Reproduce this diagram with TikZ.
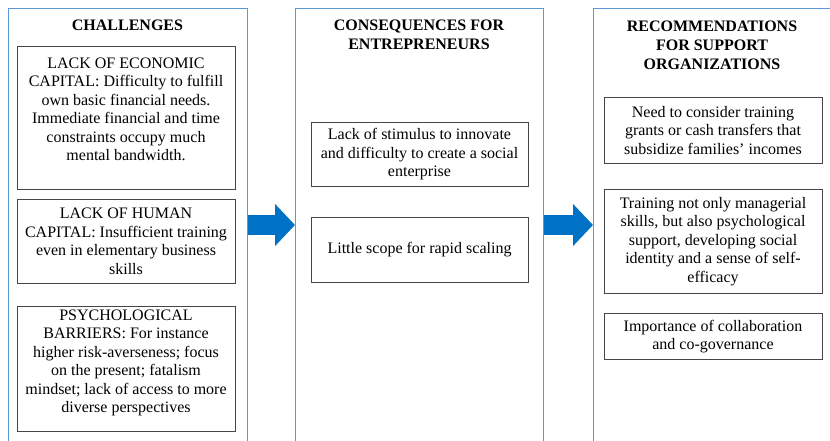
\documentclass[tikz,border=0pt]{standalone}
\usepackage{fontspec}
\setmainfont{Liberation Serif}
\usetikzlibrary{arrows.meta}
\definecolor{panelblue}{RGB}{91,155,213}
\definecolor{arrowblue}{RGB}{0,114,198}
\definecolor{boxgray}{RGB}{70,70,70}

\begin{document}
\begin{tikzpicture}[x=1pt, y=-1pt,
    every node/.style={font=\fontsize{16}{18.5}\selectfont, align=center},
    panel/.style={draw=panelblue, line width=0.9pt, anchor=north west,
                  minimum height=445pt, inner sep=0pt},
    cell/.style={draw=boxgray, line width=0.9pt, anchor=north, inner sep=3pt},
    heading/.style={font=\fontsize{16}{19}\selectfont\bfseries},
    flow/.style={draw=arrowblue, line width=20pt,
                 -{Triangle[length=20pt, width=41pt]}}]

    \useasboundingbox (0,0) rectangle (830,440);

    \foreach \name/\x/\w in {chal/8/239, cons/295/248, reco/593/245} {
        \node[panel, minimum width=\w pt] (\name) at (\x,8) {};
    }

    \node[heading] (chalhead) at (127.5,25) {CHALLENGES};
    \node[heading] (conshead) at (419,34.5) {CONSEQUENCES FOR\\ENTREPRENEURS};
    \node[heading] (recohead) at (712,45) {RECOMMENDATIONS\\FOR SUPPORT\\ORGANIZATIONS};

    \node[cell, minimum width=218pt, minimum height=143pt] (econ) at (126,46)
        {LACK OF ECONOMIC\\CAPITAL: Difficulty to fulfill\\own basic financial needs.\\Immediate financial and time\\constraints occupy much\\mental bandwidth.\\[-1pt]~};
    \node[cell, minimum width=218pt, minimum height=84pt] (human) at (126,199)
        {LACK OF HUMAN\\CAPITAL: Insufficient training\\even in elementary business\\skills};
    \node[cell, minimum width=218pt, minimum height=123pt] (psych) at (126,306)
        {PSYCHOLOGICAL\\BARRIERS: For instance\\higher risk-averseness; focus\\on the present; fatalism\\mindset; lack of access to more\\diverse perspectives\\[-3pt]~};

    \node[cell, minimum width=217pt, minimum height=64pt] (stim) at (419.5,122)
        {Lack of stimulus to innovate\\and difficulty to create a social\\enterprise};
    \node[cell, minimum width=217pt, minimum height=65pt] (scal) at (419.5,217)
        {Little scope for rapid scaling};

    \node[cell, minimum width=218pt, minimum height=66pt] (grant) at (713,97)
        {Need to consider training\\grants or cash transfers that\\subsidize families' incomes};
    \node[cell, minimum width=218pt, minimum height=104pt] (train) at (713,189)
        {Training not only managerial\\skills, but also psychological\\support, developing social\\identity and a sense of self-\\efficacy};
    \node[cell, minimum width=218pt, minimum height=46pt] (collab) at (713,313)
        {Importance of collaboration\\and co-governance};

    \coordinate (mid) at (0,225);
    \draw[flow] (chal.east |- mid) -- (cons.west |- mid);
    \draw[flow] (cons.east |- mid) -- (reco.west |- mid);
\end{tikzpicture}
\end{document}
